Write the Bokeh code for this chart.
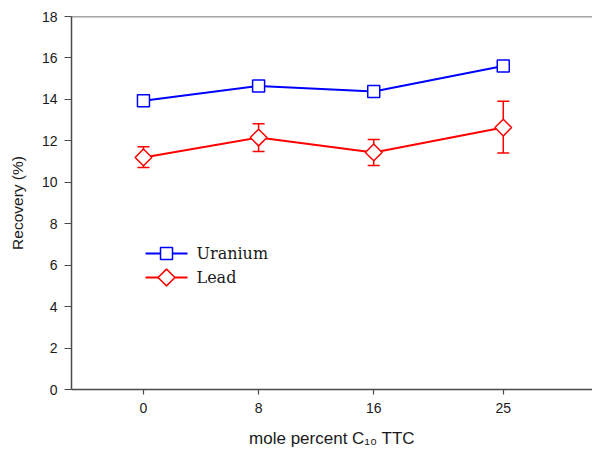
import numpy as np
from bokeh.plotting import figure
from bokeh.models import (ColumnDataSource, Range1d, FixedTicker, Span, Whisker,
                          TeeHead, Label, PolyAnnotation)
from bokeh.embed import file_html
from bokeh.resources import INLINE

# ---- data ----
mole_percent = [0, 8, 16, 25]
uranium = [13.93, 14.65, 14.38, 15.61]
lead = [11.20, 12.16, 11.44, 12.64]
lead_lower = [10.71, 11.48, 10.81, 11.41]
lead_upper = [11.71, 12.83, 12.06, 13.91]
y_ticks = [0, 2, 4, 6, 8, 10, 12, 14, 16, 18]
series_names = ["Uranium", "Lead"]
series_colors = ["blue", "red"]

AX = "#4a4a4a"
TXT = "#1a1a1a"

p = figure(width=592, height=455, output_backend="svg", toolbar_location=None,
           x_range=Range1d(-5, 31.2), y_range=Range1d(0, 18),
           min_border_left=71, min_border_right=0, min_border_top=16,
           min_border_bottom=66)
p.outline_line_color = None
p.xgrid.visible = False
p.ygrid.visible = False

# axes
for ax in (p.xaxis[0], p.yaxis[0]):
    ax.axis_line_color = AX
    ax.axis_line_width = 1.5
    ax.major_tick_line_color = AX
    ax.major_tick_line_width = 1.2
    ax.major_tick_in = 0
    ax.minor_tick_line_color = None
    ax.major_label_text_font = "Liberation Sans"
    ax.major_label_text_font_size = "14px"
    ax.major_label_text_color = TXT
    ax.axis_label_text_font = "Liberation Sans"
    ax.axis_label_text_font_style = "normal"
    ax.axis_label_text_color = TXT

p.xaxis.ticker = FixedTicker(ticks=mole_percent)
p.xaxis.major_tick_out = 5
p.xaxis.major_label_standoff = 8
p.xaxis.axis_label = "mole percent C\u2081\u2080 TTC"
p.xaxis.axis_label_text_font_size = "17px"
p.xaxis.axis_label_standoff = 13

p.yaxis.ticker = FixedTicker(ticks=y_ticks)
p.yaxis.major_tick_out = 7
p.yaxis.major_label_standoff = 7
p.yaxis.axis_label = "Recovery (%)"
p.yaxis.axis_label_text_font_size = "15.5px"
p.yaxis.axis_label_standoff = 13

# top spine
p.add_layout(Span(location=18, dimension="width", line_color=AX, line_width=1.5))

# data sources
usrc = ColumnDataSource(dict(x=mole_percent, y=uranium))
lsrc = ColumnDataSource(dict(x=mole_percent, y=lead, lower=lead_lower, upper=lead_upper))

# error bars
wh = Whisker(base="x", lower="lower", upper="upper", source=lsrc, level="underlay",
             line_color="red", line_width=1.5,
             upper_head=TeeHead(size=12, line_color="red", line_width=1.5),
             lower_head=TeeHead(size=12, line_color="red", line_width=1.5))
p.add_layout(wh)

p.line("x", "y", source=usrc, line_color="blue", line_width=2)
p.scatter("x", "y", source=usrc, marker="square", size=12, fill_color="white",
          line_color="blue", line_width=1.5)
p.line("x", "y", source=lsrc, line_color="red", line_width=2)
p.scatter("x", "y", source=lsrc, marker="square", angle=np.pi / 4, size=11.8,
          fill_color="white", line_color="red", line_width=1.5)

# ---- legend (layout in screen px, relative to the frame's bottom-left) ----
LX0, LX1 = 74, 116          # legend line extent
LMX = (LX0 + LX1) / 2       # marker centre
LTX = 125                   # text start
rows_y = [136, 112]         # row centres
HALF_SQ = 6
HALF_DI = 8.4
for name, col, ry in zip(series_names, series_colors, rows_y):
    p.add_layout(PolyAnnotation(xs=[LX0, LX1], ys=[ry, ry], xs_units="screen",
                                ys_units="screen", fill_alpha=0, line_color=col,
                                line_alpha=1, line_width=2))
    if name == "Uranium":
        xs = [LMX - HALF_SQ, LMX + HALF_SQ, LMX + HALF_SQ, LMX - HALF_SQ]
        ys = [ry - HALF_SQ, ry - HALF_SQ, ry + HALF_SQ, ry + HALF_SQ]
    else:
        xs = [LMX, LMX + HALF_DI, LMX, LMX - HALF_DI]
        ys = [ry + HALF_DI, ry, ry - HALF_DI, ry]
    p.add_layout(PolyAnnotation(xs=xs, ys=ys, xs_units="screen", ys_units="screen",
                                fill_color="white", fill_alpha=1, line_color=col,
                                line_alpha=1, line_width=1.5))
    p.add_layout(Label(x=LTX, y=ry, x_units="screen", y_units="screen",
                       text=name, text_font="DejaVu Serif", text_font_size="16px",
                       text_color=TXT, text_baseline="middle"))

open("out.html", "w").write(file_html(p, INLINE))
